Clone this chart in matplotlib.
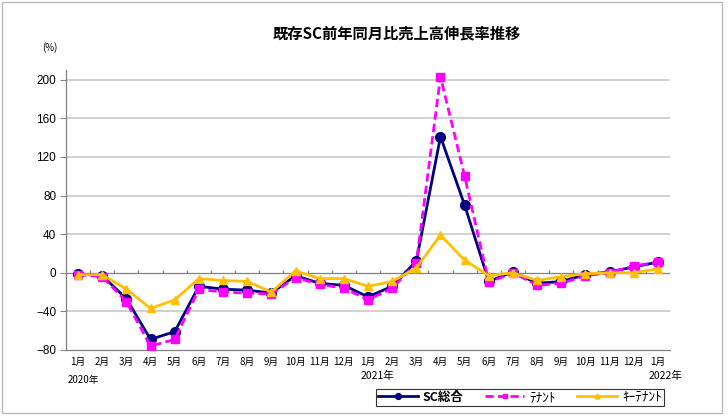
import matplotlib
matplotlib.use("Agg")
import matplotlib.pyplot as plt
import matplotlib.transforms as mtransforms
from matplotlib.patches import Rectangle

plt.rcParams['font.family'] = ['Noto Sans CJK JP', 'DejaVu Sans']

# data
months = ['1月', '2月', '3月', '4月', '5月', '6月', '7月', '8月', '9月', '10月', '11月', '12月',
          '1月', '2月', '3月', '4月', '5月', '6月', '7月', '8月', '9月', '10月', '11月', '12月', '1月']
years = ['2020年', '2021年', '2022年']
year_pos = [0, 12, 24]
sc_total = [-1, -3, -27, -69, -61, -14, -17, -18, -21, -3, -11, -13,
            -25, -14, 12, 141, 70, -9, 1, -11, -9, -2, 1, 6, 11]
tenant = [-2, -4, -30, -76, -69, -17, -20, -21, -22, -5, -12, -16,
          -28, -16, 10, 203, 100, -10, 0, -13, -11, -3, 0, 7, 11]
key_tenant = [-2, -2, -17, -37, -28, -6, -8, -9, -20, 2, -6, -6,
              -14, -9, 5, 39, 13, -3, 0, -8, -4, -1, 0, 0, 4]

fig = plt.figure(figsize=(7.28, 4.2), dpi=100)
ax = fig.add_axes([66 / 728, 70 / 420, 604 / 728, 280 / 420])

x = list(range(len(months)))
ax.plot(x, sc_total, color='#000080', lw=2, marker='o', ms=7, label='SC総合', zorder=3)
ax.plot(x, tenant, color='#ff00ff', lw=2, ls=(0, (3, 1.5)), marker='s', ms=6,
        label='ﾃﾅﾝﾄ', zorder=4)
ax.plot(x, key_tenant, color='#ffc000', lw=2, marker='^', ms=6, label='ｷｰﾃﾅﾝﾄ', zorder=5)

ax.set_xlim(-0.5, len(months) - 0.5)
ax.set_ylim(-80, 210)
ax.set_yticks(range(-80, 201, 40))
ax.set_xticks(x)
ax.set_xticklabels(months, fontsize=7)
ax.tick_params(axis='x', length=0, pad=5)
ax.tick_params(axis='y', labelsize=8, length=4, color='#888888', pad=3)
for lbl in ax.get_yticklabels():
    lbl.set_family(['Liberation Sans', 'DejaVu Sans'])
    lbl.set_fontsize(8.5)

for v in range(-40, 201, 40):
    if v != 0:
        ax.axhline(v, color='#c8c8c8', lw=1.2, zorder=1)
ax.axhline(0, color='#808080', lw=0.9, zorder=2)
ax.vlines([i + 0.5 for i in x[:-1]], 0, 3, color='#808080', lw=0.9, zorder=2)

for s in ['top', 'right']:
    ax.spines[s].set_visible(False)
for s in ['left', 'bottom']:
    ax.spines[s].set_color('#808080')
    ax.spines[s].set_linewidth(0.9)

trans = mtransforms.blended_transform_factory(ax.transData, ax.transAxes)
ax.text(year_pos[0] + 0.2, -0.107, years[0], transform=trans, ha='center', va='center', fontsize=7)
ax.text(year_pos[1] + 0.4, -0.093, years[1], transform=trans, ha='center', va='center', fontsize=7.5)
ax.text(year_pos[2] + 0.3, -0.093, years[2], transform=trans, ha='center', va='center', fontsize=7.5)

fig.text(397 / 728, 387 / 420, '既存SC前年同月比売上高伸長率推移', ha='center', va='center',
         fontsize=11, fontweight='bold')
fig.text(0.069, 0.888, '(%)', ha='center', va='center', fontsize=7)

leg = ax.legend(loc='center', bbox_to_anchor=(520 / 728, 22.5 / 420), bbox_transform=fig.transFigure,
                ncol=3, fontsize=9.5, frameon=True, fancybox=False, handlelength=3.0,
                markerscale=0.6, columnspacing=1.6, borderpad=0.15, handletextpad=0.4)
leg.get_frame().set_edgecolor('#000000')
leg.get_frame().set_linewidth(0.8)
leg.get_texts()[0].set_fontsize(9)
leg.get_texts()[0].set_fontweight('bold')

fig.patches.append(Rectangle((2 / 728, 7 / 420), 720 / 728, 411 / 420, transform=fig.transFigure,
                             fill=False, edgecolor='#bbbbbb', lw=1))

fig.savefig('out.png', dpi=100)
